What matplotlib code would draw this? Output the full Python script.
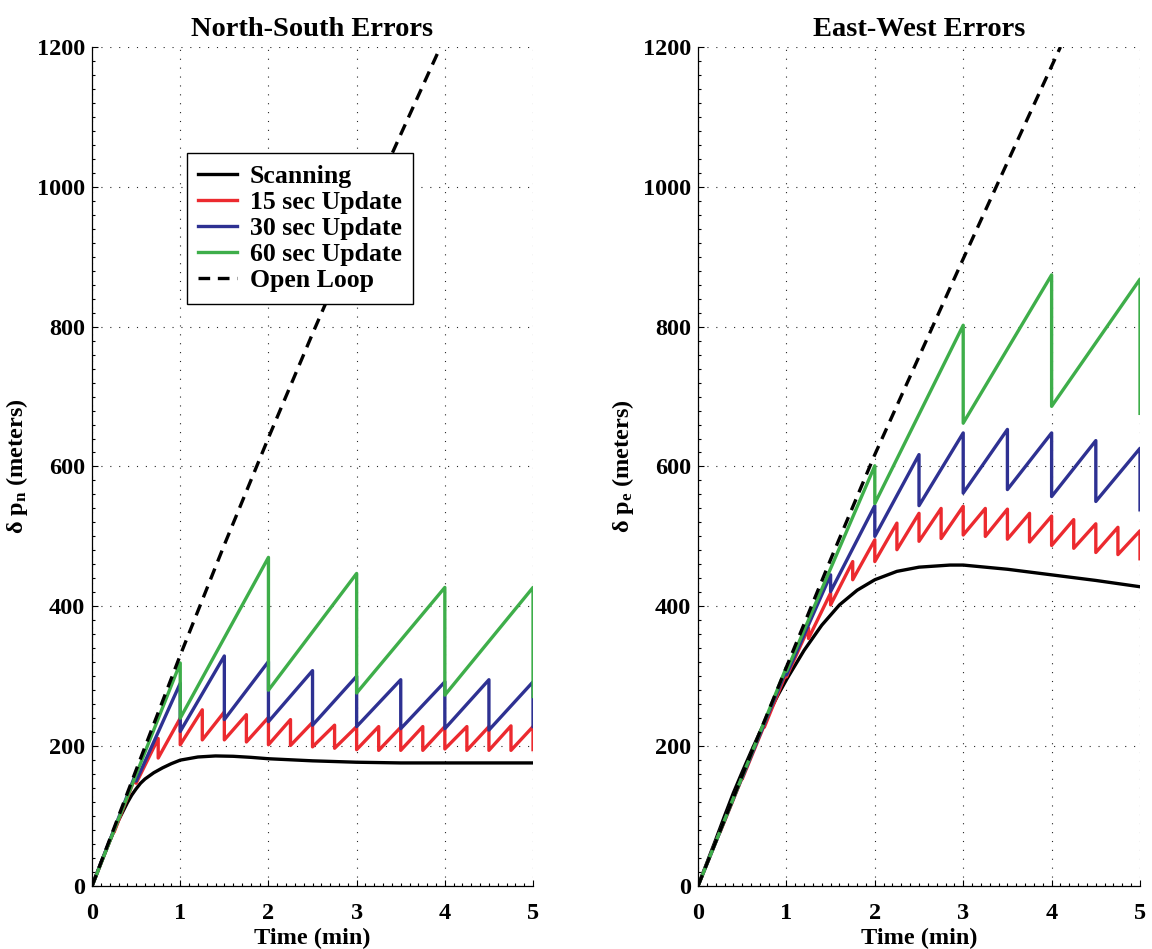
import numpy as np
import matplotlib
matplotlib.use('Agg')
import matplotlib.pyplot as plt
from matplotlib.ticker import MultipleLocator

plt.rcParams['font.family'] = ['Liberation Serif', 'DejaVu Serif']
plt.rcParams['font.weight'] = 'bold'
plt.rcParams['mathtext.fontset'] = 'custom'
plt.rcParams['mathtext.rm'] = 'Liberation Serif:bold'
plt.rcParams['mathtext.it'] = 'Liberation Serif:bold'
plt.rcParams['mathtext.bf'] = 'Liberation Serif:bold'

# ---- data (time in min, error in meters) ----
# Scanning (smooth curves)
ns_scan_t = [0, 0.1, 0.2, 0.3, 0.4, 0.45, 0.5, 0.55, 0.6, 0.7, 0.8, 0.9, 1.0, 1.2, 1.4, 1.6, 1.8, 2.0, 2.5, 3.0, 3.5, 4.0, 4.5, 5.0]
ns_scan_v = [0, 33, 64, 94, 119, 130, 139, 147, 153, 162, 169, 175, 180, 184.5, 186, 185.5, 184, 182, 179, 177, 176, 176, 176, 176]
ew_scan_t = [0, 0.1, 0.2, 0.3, 0.4, 0.5, 0.6, 0.7, 0.8, 0.9, 1.0, 1.2, 1.4, 1.6, 1.8, 2.0, 2.25, 2.5, 2.85, 3.0, 3.5, 4.0, 4.5, 5.0]
ew_scan_v = [0, 33, 66, 100, 133, 163, 192, 220, 247, 272, 295, 337, 373, 402, 423, 438, 450, 456, 459, 459, 453, 445, 437, 428]

# Open loop
ns_ol_t = [0, 0.5, 1.0, 1.5, 2.0, 2.5, 3.0, 3.5, 3.95]
ns_ol_v = [0, 166, 330, 488, 641, 790, 935, 1075, 1200]
ew_ol_t = [0, 0.5, 1.0, 1.5, 2.0, 2.5, 3.0, 3.5, 4.1]
ew_ol_v = [0, 158, 313, 467, 617, 757, 897, 1035, 1200]

# Updates: error just before (peak) and just after (trough) each fix
upd_15 = [0.25, 0.5, 0.75, 1.0, 1.25, 1.5, 1.75, 2.0, 2.25, 2.5,
          2.75, 3.0, 3.25, 3.5, 3.75, 4.0, 4.25, 4.5, 4.75, 5.0]
upd_30 = [0.5, 1.0, 1.5, 2.0, 2.5, 3.0, 3.5, 4.0, 4.5, 5.0]
upd_60 = [1.0, 2.0, 3.0, 4.0, 5.0]

ns_15_peak = [80, 159, 211, 240, 252, 249, 245, 241, 238, 234, 230, 228, 228, 227, 228, 228, 228, 228, 229, 228]
ns_15_trough = [77, 147, 183, 202, 209, 209, 206, 202, 201, 199, 197, 195, 194, 194, 194, 196, 194, 194, 194, 195]
ns_30_peak = [162, 290, 329, 321, 308, 300, 295, 292, 295, 292]
ns_30_trough = [150, 221, 238, 235, 230, 228, 225, 225, 223, 228]
ns_60_peak = [319, 470, 447, 427, 427]
ns_60_trough = [240, 280, 276, 273, 271]

ew_15_peak = [78, 155, 230, 305, 369, 419, 464, 495, 519, 533, 540, 543, 540, 539, 533, 529, 524, 518, 513, 508]
ew_15_trough = [77, 153, 227, 299, 354, 402, 438, 464, 481, 493, 497, 502, 500, 496, 492, 487, 483, 477, 474, 468]
ew_30_peak = [156, 309, 445, 544, 617, 648, 653, 648, 637, 626]
ew_30_trough = [155, 302, 421, 500, 544, 562, 567, 557, 550, 538]
ew_60_peak = [313, 601, 802, 874, 868]
ew_60_trough = [307, 547, 662, 686, 676]

labels = ['Scanning', '15 sec Update', '30 sec Update', '60 sec Update', 'Open Loop']
colors = ['black', '#ec2a2f', '#2e3192', '#3eae4a', 'black']


def sawtooth(times, peaks, troughs):
    # start at zero, rise to each peak, then drop straight down at the fix
    t = [0.0]
    v = [0.0]
    for tk, pk, tr in zip(times, peaks, troughs):
        t += [tk, tk]
        v += [pk, tr]
    return t, v


def setup_axes(ax, title, ylabel):
    ax.set_xlim(0, 5)
    ax.set_ylim(0, 1200)
    ax.set_xticks(range(0, 6))
    ax.set_yticks(range(0, 1201, 200))
    ax.xaxis.set_minor_locator(MultipleLocator(0.1))
    ax.yaxis.set_minor_locator(MultipleLocator(20))
    ax.tick_params(which='both', direction='in', top=False, right=False, labelsize=17.5, width=0.8)
    ax.tick_params(axis='x', which='major', length=4.5, pad=12)
    ax.tick_params(axis='y', which='major', length=4.5, pad=5)
    ax.tick_params(which='minor', length=2)
    for s in ['top', 'right']:
        ax.spines[s].set_visible(False)
    for s in ['left', 'bottom']:
        ax.spines[s].set_linewidth(0.9)
    ax.grid(True, which='major', linestyle=(0, (1, 7)), linewidth=0.8, color='0.15')
    ax.set_axisbelow(True)
    ax.set_title(title, fontsize=20.5, fontweight='bold', pad=8)
    ax.set_xlabel('Time (min)', fontsize=17.5, fontweight='bold', labelpad=3)
    ax.set_ylabel(ylabel, fontsize=17.5, fontweight='bold', labelpad=5)


fig = plt.figure(figsize=(11.52, 9.49), dpi=100)
ax1 = fig.add_axes([0.0799, 0.0664, 0.3828, 0.8841])
ax2 = fig.add_axes([0.6059, 0.0664, 0.3837, 0.8841])

panels = [
    (ax1, 'North-South Errors', r'$\delta$ p$_{\rm n}$ (meters)',
     ns_scan_t, ns_scan_v, ns_ol_t, ns_ol_v,
     [(ns_15_peak, ns_15_trough), (ns_30_peak, ns_30_trough), (ns_60_peak, ns_60_trough)]),
    (ax2, 'East-West Errors', r'$\delta$ p$_{\rm e}$ (meters)',
     ew_scan_t, ew_scan_v, ew_ol_t, ew_ol_v,
     [(ew_15_peak, ew_15_trough), (ew_30_peak, ew_30_trough), (ew_60_peak, ew_60_trough)]),
]

lw = 2.4
for ax, title, ylab, st, sv, ot, ov, saws in panels:
    ax.plot(st, sv, color=colors[0], lw=lw, label=labels[0])
    for k, (upd, (pk, tr)) in enumerate(zip([upd_15, upd_30, upd_60], saws)):
        t, v = sawtooth(upd, pk, tr)
        ax.plot(t, v, color=colors[k + 1], lw=lw, label=labels[k + 1])
    ax.plot(ot, ov, color=colors[4], lw=lw, linestyle=(0, (3.5, 2.3)), label=labels[4])
    setup_axes(ax, title, ylab)

leg = ax1.legend(loc='upper left', bbox_to_anchor=(0.2147, 0.8733), borderaxespad=0,
                 fontsize=18.5, handlelength=1.5, handletextpad=0.5, labelspacing=0.12,
                 borderpad=0.45, fancybox=False, framealpha=1, edgecolor='black')
leg.get_frame().set_linewidth(1.0)

fig.savefig('out.png', dpi=100)
